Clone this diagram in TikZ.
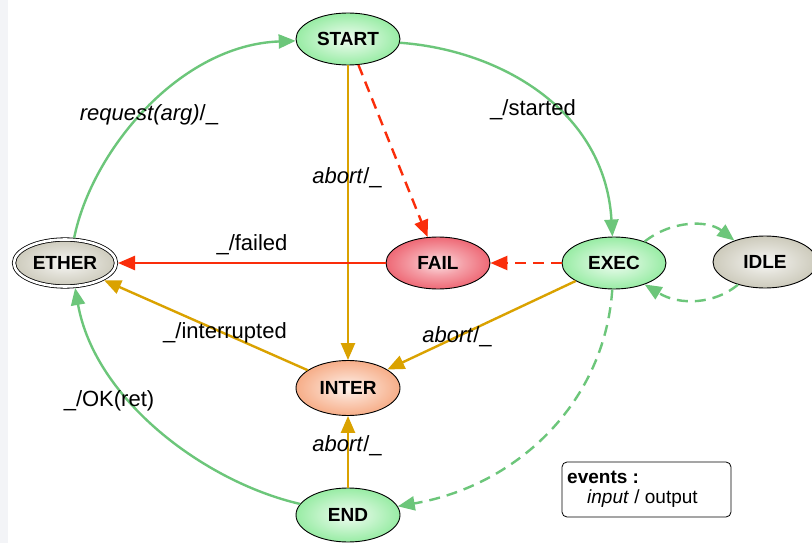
\documentclass[tikz,border=0pt]{standalone}
\usepackage{fontspec}
\setmainfont{Liberation Sans}
\usetikzlibrary{shapes.geometric,arrows.meta}

\definecolor{edgegreen}{RGB}{108,198,122}
\definecolor{edgegold}{RGB}{218,162,0}
\definecolor{edgered}{RGB}{250,45,10}
\definecolor{fillgreen}{RGB}{120,230,136}
\definecolor{fillred}{RGB}{234,66,82}
\definecolor{fillorange}{RGB}{244,150,102}
\definecolor{fillgray}{RGB}{190,187,168}
\definecolor{stripgray}{RGB}{243,244,247}

% soft radial glow for the state fills
\pgfdeclareradialshading{glowgreen}{\pgfpoint{0bp}{0bp}}{color(0bp)=(white!88!fillgreen); color(12bp)=(white!58!fillgreen); color(34bp)=(fillgreen); color(50bp)=(fillgreen)}
\pgfdeclareradialshading{glowred}{\pgfpoint{0bp}{0bp}}{color(0bp)=(white!85!fillred); color(12bp)=(white!50!fillred); color(34bp)=(fillred); color(50bp)=(fillred)}
\pgfdeclareradialshading{gloworange}{\pgfpoint{0bp}{0bp}}{color(0bp)=(white!88!fillorange); color(12bp)=(white!55!fillorange); color(34bp)=(fillorange); color(50bp)=(fillorange)}
\pgfdeclareradialshading{glowgray}{\pgfpoint{0bp}{0bp}}{color(0bp)=(white!90!fillgray); color(12bp)=(white!55!fillgray); color(34bp)=(fillgray); color(50bp)=(fillgray)}

\tikzset{
  state/.style={ellipse, draw=black, line width=0.9pt, minimum width=104pt,
    minimum height=52pt, inner sep=0pt, font=\fontsize{19}{22}\selectfont\bfseries},
  gline/.style={draw=edgegreen, line width=2.4pt, -{Triangle[length=17pt,width=14pt]}},
  yline/.style={draw=edgegold, line width=2.4pt, -{Triangle[length=17pt,width=14pt]}},
  rline/.style={draw=edgered, line width=2.4pt, -{Triangle[length=17pt,width=14pt]}},
  dash pat/.style={dash pattern=on 11pt off 7pt},
  lbl/.style={inner sep=0pt, font=\fontsize{22}{26}\selectfont},
  legtext/.style={inner sep=0pt, anchor=west, font=\fontsize{19}{22}\selectfont}
}

\begin{document}
\begin{tikzpicture}[x=1pt, y=-1pt]
  \useasboundingbox (0,0) rectangle (812,543);
  \fill[white] (0,0) rectangle (812,543);
  \fill[stripgray] (0,0) rectangle (8,543);

  % states
  \node[state, shading=glowgreen] (start) at (348,39) {START};
  \node[state, shading=glowred] (fail) at (438,263) {FAIL};
  \node[state, shading=glowgreen] (exec) at (614,263) {EXEC};
  \node[state, shading=glowgray] (idle) at (765,262) {IDLE};
  \node[state, shading=glowgray, double, double distance=2.6pt, line width=0.8pt,
        minimum width=102pt, minimum height=47pt, outer sep=2pt] (ether) at (65,263) {ETHER};
  \node[state, shading=gloworange, minimum height=55pt] (inter) at (348,388) {INTER};
  \node[state, shading=glowgreen, minimum height=54pt] (end) at (348,515) {END};

  % transitions
  \draw[gline] (ether.70) .. controls (92,150) and (180,45) .. (start);
  \draw[gline] (start) .. controls (500,50) and (605,110) .. (exec);
  \draw[yline] (start) -- (inter);
  \draw[rline, dash pat] (start) -- (fail);
  \draw[rline, dash pat] (exec) -- (fail);
  \draw[rline] (fail) -- (ether);
  \draw[yline] (exec) -- (inter);
  \draw[yline] (inter) -- (ether);
  \draw[yline] (end) -- (inter);
  \draw[gline] (end) .. controls (205,482) and (95,400) .. (ether.-68);
  \draw[gline, dash pat] (exec) .. controls (605,400) and (520,485) .. (end);
  \draw[gline, dash pat] (exec.35) .. controls (672,220) and (708,220) .. (idle.145);
  \draw[gline, dash pat] (idle.-140) .. controls (715,304) and (680,306) .. (exec.-35);

  % transition labels
  \node[lbl] (l-req) at (149,115) {\textit{request(arg)}/\_};
  \node[lbl] (l-started) at (533,110) {\_/started};
  \node[lbl] (l-abort1) at (347,178) {\textit{abort}/\_};
  \node[lbl] (l-failed) at (252,245) {\_/failed};
  \node[lbl] (l-intr) at (225,333) {\_/interrupted};
  \node[lbl] (l-abort2) at (457,337) {\textit{abort}/\_};
  \node[lbl] (l-abort3) at (347,446) {\textit{abort}/\_};
  \node[lbl] (l-ok) at (109,401) {\_/OK(ret)};

  % legend
  \node[draw=black, line width=0.8pt, rounded corners=5pt, minimum width=169pt,
        minimum height=55pt, inner sep=0pt] (legend) at (646.5,489.5) {};
  \node[legtext, font=\fontsize{19}{22}\selectfont\bfseries] (leg-title) at (567,477) {events :};
  \node[legtext] (leg-body) at (587,499) {\textit{input} / output};
\end{tikzpicture}
\end{document}
